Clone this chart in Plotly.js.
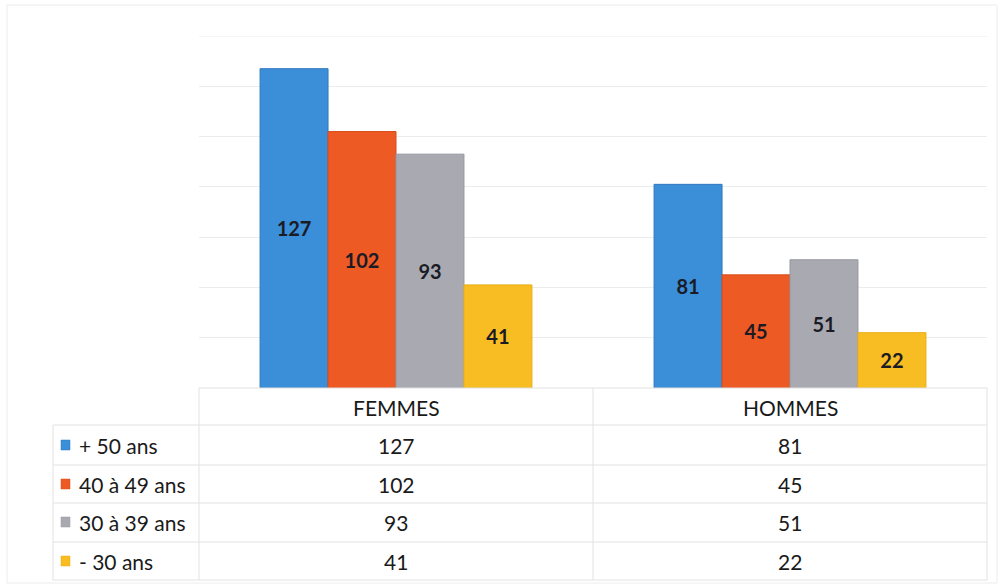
<!DOCTYPE html>
<html>
<head>
<meta charset="utf-8">
<script src="https://cdn.plot.ly/plotly-3.0.1.min.js"></script>
<style>html,body{margin:0;padding:0;background:#fff;}#chart{width:1002px;height:587px;}</style>
</head>
<body>
<div id="chart"></div>
<script>
// ---- data ----
var categories = ["FEMMES", "HOMMES"];
var seriesNames = ["+ 50 ans", "40 à 49 ans", "30 à 39 ans", "- 30 ans"];
var plus50 = [127, 81];
var de40a49 = [102, 45];
var de30a39 = [93, 51];
var moins30 = [41, 22];
var seriesValues = [plus50, de40a49, de30a39, moins30];
var yTicks = [0, 20, 40, 60, 80, 100, 120, 140];

// ---- style ----
var colors = ["#3a8fd8", "#ee5a24", "#a9aab1", "#f7bd22"];
var edgeColors = ["#2f78bd", "#d94c1a", "#9596a0", "#e9ad14"];
var W = 1002, H = 587;
var L = 199, R = 15, T = 36, B = 199;
var plotH = H - T - B;
var baseY = H - B;
function py(p) { return (baseY - p) / plotH; } // pixel y -> paper y
var plotW = W - L - R;
function px(p) { return (p - L) / plotW; }  // pixel x -> paper x

var traces = seriesNames.map(function (name, i) {
  return {
    type: "bar",
    name: name,
    x: categories,
    y: seriesValues[i],
    text: seriesValues[i].map(String),
    textposition: "inside",
    insidetextanchor: "middle",
    textangle: 0,
    textfont: {family: "Lato, 'Open Sans', sans-serif", size: 20, color: "#1b1b26", weight: "bold"},
    marker: {color: colors[i], line: {color: edgeColors[i], width: 1}},
    hoverinfo: "none",
    cliponaxis: false
  };
});

var lineCol = "#e2e2e2";
var shapes = [];
// outer faint frame
shapes.push({type: "rect", xref: "paper", yref: "paper", x0: px(7), x1: px(997), y0: py(583), y1: py(5),
  line: {color: "#ececec", width: 1}});
// top gridline (range edge)
shapes.push({type: "line", xref: "paper", yref: "y", x0: 0, x1: 1, y0: yTicks[yTicks.length - 1], y1: yTicks[yTicks.length - 1],
  line: {color: "#ececec", width: 1}, layer: "below"});
// table row lines
var rowLines = [425, 465, 503, 542, 580];
rowLines.forEach(function (y) {
  shapes.push({type: "line", xref: "paper", yref: "paper", x0: px(53), x1: px(987), y0: py(y), y1: py(y),
    line: {color: lineCol, width: 1}});
});
// table header top line (axis baseline)
shapes.push({type: "line", xref: "paper", yref: "paper", x0: 0, x1: 1, y0: 0, y1: 0, line: {color: lineCol, width: 1}});
// vertical lines
shapes.push({type: "line", xref: "paper", yref: "paper", x0: px(53), x1: px(53), y0: py(425), y1: py(580), line: {color: lineCol, width: 1}});
[199, 593, 987].forEach(function (x) {
  shapes.push({type: "line", xref: "paper", yref: "paper", x0: px(x), x1: px(x), y0: 0, y1: py(580), line: {color: lineCol, width: 1}});
});

var rowCenters = [445, 484, 522, 561];
var tableFont = {family: "Lato, 'Open Sans', sans-serif", size: 21, color: "#1a1a1a"};
var annotations = [];
// header
categories.forEach(function (c) {
  annotations.push({xref: "x", yref: "paper", x: c, y: py(407), text: c, showarrow: false,
    xanchor: "center", yanchor: "middle", font: tableFont});
});
// legend keys + values
seriesNames.forEach(function (name, i) {
  var yc = rowCenters[i];
  shapes.push({type: "rect", xref: "paper", yref: "paper", x0: px(61), x1: px(70), y0: py(yc + 5), y1: py(yc - 5),
    fillcolor: colors[i], line: {color: edgeColors[i], width: 0.5}});
  annotations.push({xref: "paper", yref: "paper", x: px(77), y: py(yc), text: name, showarrow: false,
    xanchor: "left", yanchor: "middle", font: tableFont});
  categories.forEach(function (c, j) {
    annotations.push({xref: "x", yref: "paper", x: c, y: py(yc), text: String(seriesValues[i][j]), showarrow: false,
      xanchor: "center", yanchor: "middle", font: tableFont});
  });
});

var layout = {
  width: W, height: H,
  margin: {l: L, r: R, t: T, b: B, pad: 0},
  paper_bgcolor: "#ffffff",
  plot_bgcolor: "#ffffff",
  barmode: "group",
  bargap: 0.31,
  bargroupgap: 0,
  showlegend: false,
  xaxis: {showticklabels: false, showgrid: false, zeroline: false, showline: false, ticks: ""},
  yaxis: {range: [0, 140], tickvals: yTicks, showticklabels: false, showgrid: true, gridcolor: "#ececec",
    gridwidth: 1, zeroline: false, showline: false, ticks: ""},
  shapes: shapes,
  annotations: annotations,
  font: {family: "Lato, 'Open Sans', sans-serif"}
};

Plotly.newPlot("chart", traces, layout, {displayModeBar: false, staticPlot: true});
</script>
</body>
</html>
